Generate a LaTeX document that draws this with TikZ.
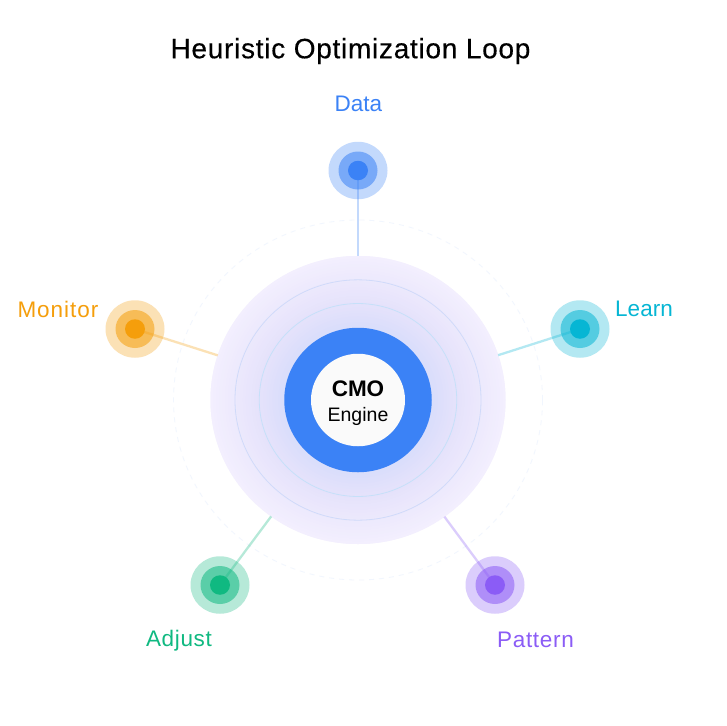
\documentclass[tikz,border=0pt]{standalone}
\usepackage{fontspec}
\usetikzlibrary{shapes.geometric}
\setmainfont{Liberation Sans}
\definecolor{cblue}{HTML}{3B82F6}
\definecolor{ccyan}{HTML}{06B6D4}
\definecolor{cviolet}{HTML}{8B5CF6}
\definecolor{cgreen}{HTML}{10B981}
\definecolor{corange}{HTML}{F59E0B}
\definecolor{glowout}{HTML}{F3EFFE}
\definecolor{glowmid}{HTML}{E5E2FB}
\definecolor{glowin}{HTML}{D8DDFB}
\definecolor{ringa}{HTML}{D0DAFA}
\definecolor{ringb}{HTML}{C6E0F9}
\tikzset{
  disc/.style 2 args={ellipse,draw=none,inner sep=0pt,outer sep=0pt,minimum width=#1,minimum height=#2},
  sat/.style={disc={59pt}{57.5pt},fill=#1,fill opacity=.3},
  satmid/.style={disc={39pt}{38pt},fill=#1,fill opacity=.55},
  satcore/.style={disc={20pt}{19.5pt},fill=#1},
  spoke/.style={draw=#1,draw opacity=.3,line width=2.3pt},
  lab/.style={text=#1,inner sep=0pt},
  ringline/.style 2 args={ellipse,draw=#1,line width=.8pt,inner sep=0pt,fill=none,minimum width=#2,minimum height=.977*#2}
}
\newcommand{\labelfont}[1]{\fontsize{22.5}{26}\selectfont\addfontfeature{LetterSpace=#1}}
\begin{document}
\begin{tikzpicture}[x=1pt,y=-1pt]
\useasboundingbox (0,0) rectangle (726,726);
\fill[white] (0,0) rectangle (726,726);
\node[font=\fontsize{28}{32}\selectfont\addfontfeature{LetterSpace=2.6,FakeBold=0.35},text=black,inner sep=0pt] (title) at (350.5,51) {Heuristic Optimization Loop};
\coordinate (c) at (358,400);
% dashed orbit
\node[ellipse,draw=cblue!7,line width=.8pt,dash pattern=on 5pt off 5pt,minimum width=369pt,minimum height=360pt,inner sep=0pt] (orbit) at (c) {};
% glow
\node[disc={295pt}{288pt},fill=glowout] (glow) at (c) {};
\foreach \i in {100,98,...,40}{
  \pgfmathsetmacro{\w}{\i/100*295}
  \pgfmathsetmacro{\h}{\i/100*288}
  \pgfmathsetmacro{\pa}{max(0,min(100,(\i-67)/33*100))}
  \pgfmathsetmacro{\pb}{max(0,min(100,(\i-50)/17*100))}
  \ifdim\i pt>67pt
    \fill[glowout!\pa!glowmid] (c) ellipse [x radius=\w pt/2,y radius=\h pt/2];
  \else
    \fill[glowmid!\pb!glowin] (c) ellipse [x radius=\w pt/2,y radius=\h pt/2];
  \fi
}
\node[ringline={ringa}{246pt}] (ringA) at (c) {};
\node[ringline={ringb}{197.5pt}] (ringB) at (c) {};
\node[disc={147.5pt}{144.5pt},fill=cblue] (blue) at (c) {};
\node[disc={94pt}{92.5pt},fill=white!98!black] (core) at (c) {};
\node[font=\bfseries\fontsize{22.5}{26}\selectfont,inner sep=0pt,text=black] (cmo) at (358,388.5) {CMO};
\node[font=\fontsize{19.5}{24}\selectfont,inner sep=0pt,text=black] (engine) at (358,416) {Engine};
% satellites
\foreach \n/\col/\x/\y in {data/cblue/358/170.5,learn/ccyan/580/329,pattern/cviolet/495/585,adjust/cgreen/220/585,monitor/corange/135/329}{
  \node[sat=\col] (\n) at (\x,\y) {};
  \node[satmid=\col] (\n m) at (\x,\y) {};
  \node[satcore=\col] (\n c) at (\x,\y) {};
  \draw[spoke=\col] (\n.center) -- (glow);
}
\node[lab=cblue,font=\labelfont{0}] (ldata) at (358.5,104) {Data};
\node[lab=ccyan,font=\labelfont{0}] (llearn) at (644,309) {Learn};
\node[lab=cviolet,font=\labelfont{3}] (lpattern) at (535.5,640) {Pattern};
\node[lab=cgreen,font=\labelfont{3}] (ladjust) at (179,641) {Adjust};
\node[lab=corange,font=\labelfont{4.4}] (lmonitor) at (58,309) {Monitor};
\end{tikzpicture}
\end{document}
